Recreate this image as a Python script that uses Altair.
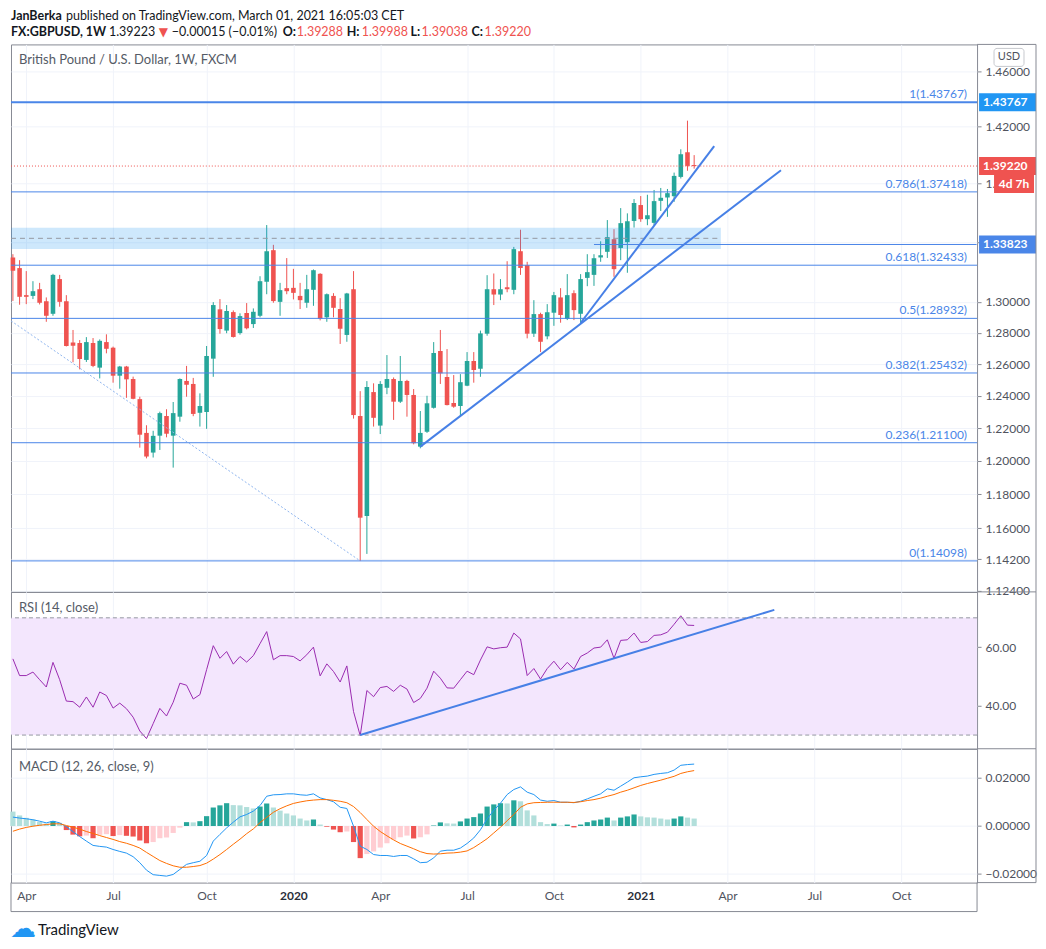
import altair as alt
import pandas as pd
import numpy as np

FONT = "Lato, 'DejaVu Sans', sans-serif"
UP, DOWN = "#26a69a", "#ef5350"
FIB_BLUE = "#4a86e8"
TREND = "#4780e6"
GRID = "#f0f3fa"
FRAME = "#878a94"
LABEL = "#50535e"
W = 967
H_HEAD, H_PRICE, H_RSI, H_MACD = 36, 548, 157, 134

# ---------------- data ----------------
first_week = "2019-03-18"
n_weeks = 103
dates = pd.date_range(first_week, periods=n_weeks, freq="7D").strftime("%Y-%m-%d").tolist()

opens = [1.3295, 1.3224, 1.3045, 1.3040, 1.3084, 1.3005, 1.2923, 1.3151, 1.3005, 1.2738,
         1.2734, 1.2626, 1.2734, 1.2577, 1.2740, 1.2704, 1.2526, 1.2584, 1.2505, 1.2379,
         1.2170, 1.2050, 1.2153, 1.2274, 1.2153, 1.2270, 1.2493, 1.2474, 1.2294, 1.2299,
         1.2634, 1.2952, 1.2814, 1.2934, 1.2798, 1.2928, 1.2856, 1.2910, 1.3133, 1.3344,
         1.3001, 1.3091, 1.3093, 1.3040, 1.2995, 1.3080, 1.3186, 1.2900, 1.3040, 1.2954,
         1.2786, 1.3084, 1.2274, 1.1671, 1.2423, 1.2215, 1.2450, 1.2505, 1.2363, 1.2493,
         1.2405, 1.2086, 1.2177, 1.2325, 1.2683, 1.2518, 1.2355, 1.2336, 1.2463, 1.2619,
         1.2570, 1.2794, 1.3084, 1.3049, 1.3097, 1.3080, 1.3337, 1.3244, 1.2794, 1.2921,
         1.2777, 1.2930, 1.3030, 1.2889, 1.3058, 1.2923, 1.3159, 1.3179, 1.3295, 1.3333,
         1.3418, 1.3359, 1.3398, 1.3542, 1.3651, 1.3554, 1.3529, 1.3680, 1.3703, 1.3712,
         1.3846, 1.4019, 1.39288]
highs = [1.3317, 1.3277, 1.3204, 1.3137, 1.3126, 1.3030, 1.3186, 1.3179, 1.3045, 1.2818,
         1.2753, 1.2772, 1.2766, 1.2757, 1.2790, 1.2711, 1.2588, 1.2588, 1.2520, 1.2394,
         1.2217, 1.2183, 1.2301, 1.2316, 1.2361, 1.2509, 1.2588, 1.2512, 1.2415, 1.2715,
         1.2999, 1.3019, 1.2980, 1.2945, 1.2926, 1.2993, 1.2958, 1.3170, 1.3514, 1.3380,
         1.3126, 1.3291, 1.3219, 1.3126, 1.3179, 1.3215, 1.3190, 1.3056, 1.3058, 1.3025,
         1.3060, 1.3204, 1.2429, 1.2492, 1.2478, 1.2492, 1.2657, 1.2515, 1.2651, 1.2500,
         1.2442, 1.2305, 1.2400, 1.2740, 1.2818, 1.2695, 1.2530, 1.2536, 1.2676, 1.2676,
         1.2814, 1.3177, 1.3188, 1.3151, 1.3270, 1.3366, 1.3482, 1.3266, 1.3012, 1.2930,
         1.2986, 1.3066, 1.3091, 1.3184, 1.3077, 1.3184, 1.3317, 1.3317, 1.3404, 1.3548,
         1.3486, 1.3630, 1.3594, 1.3692, 1.3713, 1.3722, 1.3755, 1.3769, 1.3762, 1.3876,
         1.4040, 1.4244, 1.39988]
lows = [1.3007, 1.2982, 1.2986, 1.3019, 1.2984, 1.2871, 1.2910, 1.2969, 1.2712, 1.2611,
        1.2566, 1.2613, 1.2580, 1.2509, 1.2668, 1.2482, 1.2444, 1.2387, 1.2378, 1.2080,
        1.2015, 1.2020, 1.2066, 1.2143, 1.1959, 1.2239, 1.2394, 1.2273, 1.2209, 1.2195,
        1.2519, 1.2794, 1.2797, 1.2769, 1.2788, 1.2822, 1.2831, 1.2900, 1.3051, 1.2995,
        1.2910, 1.3051, 1.3017, 1.2954, 1.2962, 1.2975, 1.2880, 1.2871, 1.2900, 1.2728,
        1.2742, 1.2258, 1.14098, 1.1450, 1.2209, 1.2163, 1.2410, 1.2250, 1.2355, 1.2270,
        1.2100, 1.2076, 1.2170, 1.2320, 1.2474, 1.2340, 1.2325, 1.2274, 1.2460, 1.2482,
        1.2519, 1.2781, 1.2980, 1.3012, 1.3064, 1.3051, 1.3179, 1.2764, 1.2773, 1.2676,
        1.2758, 1.2845, 1.2865, 1.2882, 1.2882, 1.2860, 1.3104, 1.3106, 1.3266, 1.3292,
        1.3166, 1.3277, 1.3193, 1.3497, 1.3536, 1.3513, 1.3513, 1.3610, 1.3570, 1.3673,
        1.3835, 1.3889, 1.39038]
closes = [1.3206, 1.3034, 1.3034, 1.3071, 1.2995, 1.2910, 1.3179, 1.3001, 1.2715, 1.2717,
          1.2632, 1.2740, 1.2588, 1.2748, 1.2697, 1.2526, 1.2584, 1.2503, 1.2381, 1.2159,
          1.2026, 1.2152, 1.2292, 1.2165, 1.2292, 1.2505, 1.2469, 1.2287, 1.2336, 1.2651,
          1.2980, 1.2824, 1.2941, 1.2773, 1.2908, 1.2829, 1.2936, 1.3137, 1.3337, 1.3006,
          1.3078, 1.3071, 1.3060, 1.3012, 1.3084, 1.3210, 1.2891, 1.3051, 1.2962, 1.2826,
          1.3056, 1.2280, 1.1661, 1.2455, 1.2263, 1.2474, 1.2505, 1.2363, 1.2493, 1.2405,
          1.2107, 1.2170, 1.2353, 1.2670, 1.2541, 1.2342, 1.2332, 1.2485, 1.2619, 1.2562,
          1.2796, 1.3084, 1.3049, 1.3084, 1.3084, 1.3351, 1.3225, 1.2794, 1.2921, 1.2742,
          1.2933, 1.3045, 1.2915, 1.3045, 1.2947, 1.3151, 1.3197, 1.3290, 1.3310, 1.3432,
          1.3217, 1.3527, 1.3540, 1.3665, 1.3554, 1.3581, 1.3678, 1.3701, 1.3733, 1.3853,
          1.4005, 1.3923, 1.39220]

rsi_vals = [56.0, 50.3, 50.3, 51.5, 48.9, 46.4, 54.8, 48.9, 41.6, 41.4,
            39.5, 43.0, 39.5, 44.7, 43.5, 39.2, 40.9, 39.0, 36.1, 31.4,
            28.8, 33.9, 39.1, 36.5, 41.2, 47.7, 47.0, 42.3, 43.8, 52.3,
            60.5, 56.2, 58.5, 54.2, 56.8, 54.9, 57.1, 61.2, 65.3, 55.7,
            57.1, 57.1, 56.8, 55.3, 57.4, 60.0, 50.2, 54.3, 51.7, 48.1,
            53.6, 38.0, 29.8, 45.2, 43.1, 46.2, 46.6, 44.9, 47.0, 45.7,
            41.1, 42.5, 46.0, 51.8, 49.4, 46.1, 46.0, 48.9, 51.8, 50.6,
            55.6, 60.1, 59.4, 59.8, 60.0, 64.8, 62.8, 50.3, 52.7, 49.1,
            52.7, 55.2, 52.3, 54.8, 52.5, 56.8, 58.0, 59.7, 60.0, 62.5,
            56.2, 62.3, 62.5, 64.8, 61.6, 61.9, 64.0, 64.2, 65.1, 67.8,
            70.7, 67.5, 67.4]

macd_vals = [0.0037, 0.0033, 0.0030, 0.0026, 0.0020, 0.0013, 0.0020, 0.0013, -0.0003, -0.0024,
             -0.0044, -0.0063, -0.0081, -0.0085, -0.0088, -0.0098, -0.0106, -0.0113, -0.0128, -0.0153,
             -0.0184, -0.0203, -0.0206, -0.0209, -0.0202, -0.0181, -0.0160, -0.0153, -0.0147, -0.0123,
             -0.0063, -0.0035, -0.0008, 0.0016, 0.0038, 0.0048, 0.0062, 0.0085, 0.0124, 0.0130,
             0.0131, 0.0134, 0.0134, 0.0130, 0.0128, 0.0134, 0.0117, 0.0110, 0.0101, 0.0078,
             0.0073, -0.0001, -0.0084, -0.0098, -0.0119, -0.0123, -0.0123, -0.0127, -0.0123, -0.0123,
             -0.0137, -0.0153, -0.0151, -0.0133, -0.0105, -0.0101, -0.0101, -0.0092, -0.0073, -0.0050,
             -0.0016, 0.0030, 0.0065, 0.0095, 0.0131, 0.0152, 0.0163, 0.0141, 0.0131, 0.0108,
             0.0103, 0.0106, 0.0099, 0.0099, 0.0097, 0.0103, 0.0113, 0.0124, 0.0134, 0.0155,
             0.0149, 0.0166, 0.0183, 0.0201, 0.0205, 0.0208, 0.0215, 0.0219, 0.0222, 0.0233,
             0.0253, 0.0256, 0.0258]
signal_vals = [-0.0022, -0.0013, -0.0006, -0.0001, 0.0003, 0.0006, 0.0009, 0.0009, 0.0002, -0.0005,
               -0.0013, -0.0023, -0.0031, -0.0040, -0.0048, -0.0056, -0.0065, -0.0072, -0.0081, -0.0092,
               -0.0110, -0.0127, -0.0144, -0.0156, -0.0166, -0.0172, -0.0172, -0.0169, -0.0165, -0.0155,
               -0.0138, -0.0119, -0.0098, -0.0076, -0.0055, -0.0032, -0.0012, 0.0014, 0.0036, 0.0057,
               0.0072, 0.0084, 0.0094, 0.0100, 0.0105, 0.0108, 0.0110, 0.0110, 0.0107, 0.0103,
               0.0097, 0.0081, 0.0056, 0.0027, -0.0001, -0.0023, -0.0041, -0.0058, -0.0073, -0.0084,
               -0.0095, -0.0107, -0.0115, -0.0117, -0.0116, -0.0113, -0.0112, -0.0109, -0.0104, -0.0090,
               -0.0072, -0.0053, -0.0029, -0.0005, 0.0022, 0.0048, 0.0078, 0.0092, 0.0097, 0.0098,
               0.0099, 0.0099, 0.0099, 0.0099, 0.0098, 0.0101, 0.0106, 0.0110, 0.0116, 0.0124,
               0.0131, 0.0141, 0.0149, 0.0159, 0.0169, 0.0177, 0.0184, 0.0191, 0.0199, 0.0207,
               0.0219, 0.0226, 0.0231]
hist_vals = [0.0060, 0.0044, 0.0034, 0.0027, 0.0017, 0.0010, 0.0020, 0.0013, -0.0017, -0.0036,
             -0.0043, -0.0040, -0.0051, -0.0037, -0.0034, -0.0042, -0.0038, -0.0041, -0.0044, -0.0061,
             -0.0072, -0.0067, -0.0051, -0.0048, -0.0029, -0.0007, 0.0016, 0.0015, 0.0020, 0.0041,
             0.0077, 0.0086, 0.0095, 0.0087, 0.0086, 0.0079, 0.0073, 0.0081, 0.0094, 0.0077,
             0.0064, 0.0052, 0.0044, 0.0031, 0.0023, 0.0027, 0.0006, -0.0003, -0.0015, -0.0026,
             -0.0023, -0.0067, -0.0134, -0.0117, -0.0106, -0.0090, -0.0072, -0.0057, -0.0047, -0.0040,
             -0.0052, -0.0047, -0.0035, 0.0002, 0.0015, 0.0011, 0.0010, 0.0019, 0.0031, 0.0037,
             0.0052, 0.0081, 0.0090, 0.0095, 0.0094, 0.0107, 0.0103, 0.0065, 0.0044, 0.0016,
             0.0008, 0.0010, 0.0002, 0.0006, -0.0006, 0.0006, 0.0016, 0.0023, 0.0027, 0.0035,
             0.0023, 0.0035, 0.0040, 0.0048, 0.0040, 0.0036, 0.0035, 0.0031, 0.0027, 0.0031,
             0.0040, 0.0035, 0.0031]

fib_levels = ["1", "0.786", "0.618", "0.5", "0.382", "0.236", "0"]
fib_prices = [1.43767, 1.37418, 1.32433, 1.28932, 1.25432, 1.21100, 1.14098]

price_ticks = [1.124, 1.142, 1.16, 1.18, 1.20, 1.22, 1.24, 1.26, 1.28, 1.30, 1.34, 1.38, 1.42, 1.46]
time_ticks = ["2019-04-01", "2019-07-01", "2019-10-07", "2020-01-06", "2020-04-06", "2020-07-06",
              "2020-10-05", "2021-01-04", "2021-04-05", "2021-07-05", "2021-10-04"]

trend_a_dates = ["2020-05-18", "2021-05-31"]
trend_a_prices = [1.2086, 1.3893]
trend_b_dates = ["2020-11-02", "2021-03-22"]
trend_b_prices = [1.2863, 1.4063]
diag_dates = ["2019-03-16", "2020-03-16"]
diag_prices = [1.2877, 1.14098]
rsi_trend_dates = ["2020-03-16", "2021-05-24"]
rsi_trend_vals = [30.0, 72.7]

band_dates = ["2019-03-16", "2021-03-29"]
band_low, band_high, band_mid = 1.3352, 1.3495, 1.3424
ray_start, ray_end, ray_price = "2020-11-16", "2021-12-22", 1.33823
last_price = 1.39220
fib_top_price = 1.43767

# ---------------- helpers ----------------
def ms(s):
    return int(pd.Timestamp(s, tz="UTC").value // 10**6)

x_domain = [ms("2019-03-16"), ms("2021-12-22 12:00")]
tick_ms = [ms(d) for d in time_ticks]
xscale = alt.Scale(type="utc", domain=x_domain, nice=False, padding=0)

df = pd.DataFrame({"date": dates, "open": opens, "high": highs, "low": lows, "close": closes,
                   "rsi": rsi_vals, "macd": macd_vals, "signal": signal_vals, "hist": hist_vals})
df["candle_col"] = np.where(df["close"] >= df["open"], UP, DOWN)
hist_cols = []
prev = None
for h in hist_vals:
    if h >= 0:
        hist_cols.append("#26a69a" if (prev is not None and h > prev) else "#b2dfdb")
    else:
        hist_cols.append("#ef5350" if (prev is None or h < prev) else "#ffcdd2")
    prev = h
df["hist_col"] = hist_cols

one = pd.DataFrame({"_": [0]})

grid_x_axis = alt.Axis(values=tick_ms, labels=False, ticks=False, domain=False, grid=True,
                       gridColor=GRID, title=None)

def right_axis(values, fmt):
    return alt.Axis(orient="right", values=values, format=fmt, grid=True, gridColor=GRID,
                    domain=False, ticks=True, tickSize=4, tickColor=FRAME, labelPadding=4,
                    labelFont=FONT, labelFontSize=12, labelColor=LABEL, title=None,
                    labelOverlap=False)

def frame_rules(h, top=True, bottom=False):
    layers = [alt.Chart(one).mark_rule(color=FRAME).encode(
        x=alt.value(1026), y=alt.value(0), y2=alt.value(h))]
    if top:
        layers.append(alt.Chart(one).mark_rule(color=FRAME).encode(
            x=alt.value(W), x2=alt.value(1026), y=alt.value(0)))
    if bottom:
        layers.append(alt.Chart(one).mark_rule(color=FRAME).encode(
            x=alt.value(W), x2=alt.value(1026), y=alt.value(h)))
    return layers

def txt(x, y, s, color="#131722", weight="normal", size=13, align="left"):
    return alt.Chart(one).mark_text(text=s, align=align, baseline="middle", color=color,
                                    fontWeight=weight, fontSize=size, font=FONT).encode(
        x=alt.value(x), y=alt.value(y))

# ---------------- header ----------------
RED = "#ef5350"
HS = 12.5
header = alt.layer(
    txt(0, 8, "JanBerka", weight="bold", size=HS),
    txt(55, 8, "published on TradingView.com, March 01, 2021 16:05:03 CET", size=HS),
    txt(0, 24, "FX:GBPUSD, 1W", weight="bold", size=HS),
    txt(98, 24, "1.39223", size=HS),
    txt(148, 24, "▼", color=RED, size=12),
    txt(161, 24, "−0.00015 (−0.01%)", size=HS),
    txt(272, 24, "O:", weight="bold", size=HS), txt(286, 24, "1.39288", color=RED, size=HS),
    txt(336, 24, "H:", weight="bold", size=HS), txt(351, 24, "1.39988", color=RED, size=HS),
    txt(400, 24, "L:", weight="bold", size=HS), txt(411, 24, "1.39038", color=RED, size=HS),
    txt(461, 24, "C:", weight="bold", size=HS), txt(474, 24, "1.39220", color=RED, size=HS),
).properties(width=W, height=H_HEAD, view=alt.ViewBackground(strokeOpacity=0))

# ---------------- price pane ----------------
yscale = alt.Scale(type="log", domain=[1.1233, 1.4802], nice=False)
candle_color = alt.Color("candle_col:N", scale=None)
X = alt.X("date:T", scale=xscale, axis=grid_x_axis)

wicks = alt.Chart(df).mark_rule(strokeWidth=1).encode(
    x=X, y=alt.Y("low:Q", scale=yscale, axis=right_axis(price_ticks, ".5f")), y2="high:Q",
    color=candle_color)
bodies = alt.Chart(df).mark_bar(size=4.6).encode(
    x=alt.X("date:T", scale=xscale), y=alt.Y("open:Q", scale=yscale), y2="close:Q", color=candle_color)

band_df = pd.DataFrame({"d0": [band_dates[0]], "d1": [band_dates[1]], "lo": [band_low],
                        "hi": [band_high], "mid": [band_mid]})
band = alt.Chart(band_df).mark_rect(color="#2196f3", opacity=0.22).encode(
    x=alt.X("d0:T", scale=xscale), x2="d1:T", y=alt.Y("lo:Q", scale=yscale), y2="hi:Q")
band_mid_line = alt.Chart(band_df).mark_rule(color="#9598a1", strokeDash=[5, 4]).encode(
    x=alt.X("d0:T", scale=xscale), x2="d1:T", y=alt.Y("mid:Q", scale=yscale))

fib_df = pd.DataFrame({"level": fib_levels, "price": fib_prices})
fib_df["label"] = [f"{l}({p:.5f})" for l, p in zip(fib_levels, fib_prices)]
fib_df["w"] = [2 if l == "1" else 1 for l in fib_levels]
fib_lines = alt.Chart(fib_df).mark_rule(color=FIB_BLUE).encode(
    y=alt.Y("price:Q", scale=yscale), strokeWidth=alt.StrokeWidth("w:Q", scale=None))
fib_text = alt.Chart(fib_df).mark_text(align="right", baseline="middle", dy=-8, fontSize=12,
                                       color=FIB_BLUE, font=FONT).encode(
    x=alt.value(957), y=alt.Y("price:Q", scale=yscale), text="label:N")

ray_df = pd.DataFrame({"d0": [ray_start], "d1": [ray_end], "p": [ray_price]})
ray = alt.Chart(ray_df).mark_rule(color=FIB_BLUE, strokeWidth=1).encode(
    x=alt.X("d0:T", scale=xscale), x2="d1:T", y=alt.Y("p:Q", scale=yscale))

last_df = pd.DataFrame({"p": [last_price]})
last_line = alt.Chart(last_df).mark_rule(color=RED, strokeDash=[1, 2]).encode(
    y=alt.Y("p:Q", scale=yscale))

def seg(d, v, color, width=2, dash=None, scale=yscale):
    sdf = pd.DataFrame({"date": d, "v": v})
    kw = dict(color=color, strokeWidth=width)
    if dash:
        kw["strokeDash"] = dash
    return alt.Chart(sdf).mark_line(**kw).encode(
        x=alt.X("date:T", scale=xscale), y=alt.Y("v:Q", scale=scale))

trend_a = seg(trend_a_dates, trend_a_prices, TREND)
trend_b = seg(trend_b_dates, trend_b_prices, TREND)
diag = seg(diag_dates, diag_prices, "#8fb5ee", width=1, dash=[2, 2])

boxes_df = pd.DataFrame({"p": [fib_top_price, last_price, ray_price],
                         "col": ["#2196f3", RED, "#4a86e8"]})
boxes_df["label"] = [f"{p:.5f}" for p in boxes_df["p"]]
boxes = alt.Chart(boxes_df).mark_tick(orient="horizontal", size=57, thickness=18, opacity=1).encode(
    x=alt.value(997.5), y=alt.Y("p:Q", scale=yscale), color=alt.Color("col:N", scale=None))
boxes_txt = alt.Chart(boxes_df).mark_text(align="left", baseline="middle", color="white",
                                          fontSize=12, fontWeight="bold", font=FONT).encode(
    x=alt.value(973), y=alt.Y("p:Q", scale=yscale), text="label:N")
timer_box = alt.Chart(last_df).mark_tick(orient="horizontal", size=40, thickness=18, opacity=1,
                                         yOffset=18, color=RED).encode(
    x=alt.value(1004), y=alt.Y("p:Q", scale=yscale))
timer_txt = alt.Chart(last_df).mark_text(text="4d 7h", align="center", baseline="middle", dy=18,
                                         color="white", fontSize=12, fontWeight="bold",
                                         font=FONT).encode(
    x=alt.value(1004), y=alt.Y("p:Q", scale=yscale))

usd_box = alt.Chart(one).mark_rect(cornerRadius=3, fill="white", stroke="#c6c8cd").encode(
    x=alt.value(984), x2=alt.value(1014), y=alt.value(4), y2=alt.value(22))
usd_txt = txt(999, 13, "USD", color=LABEL, size=11, align="center")
price_title = txt(8, 16, "British Pound / U.S. Dollar, 1W, FXCM", color="#555b66", size=13)

price = alt.layer(
    wicks, bodies, band, band_mid_line, fib_lines, ray, last_line, diag, trend_a, trend_b,
    fib_text, boxes, boxes_txt, timer_box, timer_txt, usd_box, usd_txt, price_title,
    *frame_rules(H_PRICE)
).properties(width=W, height=H_PRICE)

# ---------------- RSI pane ----------------
rscale = alt.Scale(domain=[25.34, 78.85], nice=False, zero=False)
rsi_bounds = [70, 30]
rsi_band = alt.Chart(one).mark_rect(color="#f3e6fd").encode(
    x=alt.value(0), x2=alt.value(W), y=alt.datum(rsi_bounds[0], scale=rscale), y2=alt.datum(rsi_bounds[1]))
rsi_dash = alt.Chart(pd.DataFrame({"v": rsi_bounds})).mark_rule(color="#9598a1", strokeDash=[4, 3]).encode(
    y=alt.Y("v:Q", scale=rscale))
rsi_line = alt.Chart(df).mark_line(color="#9a2bb0", strokeWidth=1).encode(
    x=alt.X("date:T", scale=xscale, axis=grid_x_axis),
    y=alt.Y("rsi:Q", scale=rscale, axis=right_axis([40, 60], ".2f")))
rsi_trend = seg(rsi_trend_dates, rsi_trend_vals, TREND, scale=rscale)
rsi_title = txt(8, 16, "RSI (14, close)", color="#555b66", size=13)
rsi = alt.layer(rsi_band, rsi_line, rsi_dash, rsi_trend, rsi_title, *frame_rules(H_RSI)
                ).properties(width=W, height=H_RSI)

# ---------------- MACD pane ----------------
mscale = alt.Scale(domain=[-0.0236, 0.0322], nice=False, zero=False)
year_test = "utcmonth(datum.value) == 0"
bottom_axis = alt.Axis(values=tick_ms, ticks=False, domain=False, grid=True, gridColor=GRID,
                       title=None, labelPadding=8, labelFont=FONT, labelFontSize=12,
                       labelExpr="utcmonth(datum.value) == 0 ? '' + utcyear(datum.value) : utcFormat(datum.value, '%b')",
                       labelColor={"condition": {"test": year_test, "value": "#2a2e39"}, "value": LABEL},
                       labelFontWeight={"condition": {"test": year_test, "value": "bold"}, "value": "normal"},
                       labelOverlap=False, labelFlush=False)
hist_bars = alt.Chart(df).mark_bar(size=5.2).encode(
    x=alt.X("date:T", scale=xscale, axis=bottom_axis),
    y=alt.Y("hist:Q", scale=mscale, axis=right_axis([-0.02, 0.0, 0.02], ".5f")),
    color=alt.Color("hist_col:N", scale=None))
macd_line = alt.Chart(df).mark_line(color="#2196f3", strokeWidth=1).encode(
    x=alt.X("date:T", scale=xscale), y=alt.Y("macd:Q", scale=mscale))
signal_line = alt.Chart(df).mark_line(color="#ff6d00", strokeWidth=1).encode(
    x=alt.X("date:T", scale=xscale), y=alt.Y("signal:Q", scale=mscale))
macd_title = txt(8, 18, "MACD (12, 26, close, 9)", color="#555b66", size=13)
axis_frame = [
    alt.Chart(one).mark_rule(color=FRAME).encode(x=alt.value(0), y=alt.value(H_MACD), y2=alt.value(H_MACD + 29)),
    alt.Chart(one).mark_rule(color=FRAME).encode(x=alt.value(W), y=alt.value(H_MACD), y2=alt.value(H_MACD + 29)),
    alt.Chart(one).mark_rule(color=FRAME).encode(x=alt.value(0), x2=alt.value(W), y=alt.value(H_MACD + 29)),
]
logo_icon = txt(12, 180, "☁", color="#2196f3", size=26, align="center")
logo_txt = txt(27, 181, "TradingView", color="#131722", size=15)
macd = alt.layer(hist_bars, macd_line, signal_line, macd_title, *frame_rules(H_MACD, bottom=True),
                 *axis_frame, logo_icon, logo_txt).properties(width=W, height=H_MACD)

chart = alt.vconcat(header, price, rsi, macd, spacing=0, bounds="flush").properties(
    padding={"left": 0, "top": 0, "right": 0, "bottom": 0}
).configure_view(stroke=FRAME, strokeWidth=1).configure_text(font=FONT)

chart.save("out.html", embed_options={"renderer": "svg", "actions": False})
